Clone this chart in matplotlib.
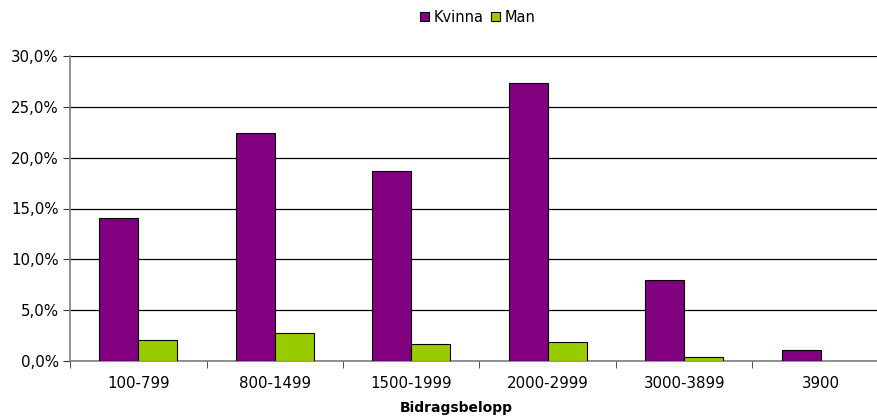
import matplotlib
matplotlib.use("Agg")
import matplotlib.pyplot as plt
import numpy as np
from matplotlib.ticker import FuncFormatter, FixedLocator

categories = ["100-799", "800-1499", "1500-1999", "2000-2999", "3000-3899", "3900"]
kvinna = [14.1, 22.4, 18.7, 27.3, 8.0, 1.1]
man = [2.05, 2.75, 1.7, 1.9, 0.4, 0.0]
series_names = ["Kvinna", "Man"]
colors = ["#800080", "#99CC00"]

plt.rcParams['font.family'] = ['DejaVu Sans']
fig = plt.figure(figsize=(8.77, 4.18), dpi=100)
ax = fig.add_axes([70/877, 1-361/418, (889-70)/877, (361-56)/418])

x = np.arange(len(categories))
w = 0.286
ax.bar(x - w/2, kvinna, w, color=colors[0], edgecolor="black", linewidth=0.8, label=series_names[0], zorder=3)
ax.bar(x + w/2, [v if v > 0 else np.nan for v in man], w, color=colors[1], edgecolor="black", linewidth=0.8, label=series_names[1], zorder=3)

ax.set_xlim(-0.5, len(categories) - 0.5)
ax.set_ylim(0, 30)
ax.set_yticks(np.arange(0, 31, 5))
ax.yaxis.set_major_formatter(FuncFormatter(lambda v, p: f"{v:.1f}".replace(".", ",") + "%"))
ax.yaxis.grid(True, color="black", linewidth=0.9, zorder=0)
ax.set_xticks(x)
ax.set_xticklabels(categories, fontsize=10.8)
ax.tick_params(axis="x", length=0, pad=11)
ax.xaxis.set_minor_locator(FixedLocator(np.arange(-0.5, len(categories), 1)))
ax.tick_params(axis="x", which="minor", length=5, color="#333333")
ax.tick_params(axis="y", length=5, color="#333333", labelsize=10.8, pad=3)
for s in ["top", "right"]:
    ax.spines[s].set_visible(False)
for s in ["left", "bottom"]:
    ax.spines[s].set_color("#808080")
    ax.spines[s].set_linewidth(1.2)

fig.text(456/877, 1-408/418, "Bidragsbelopp", fontsize=10, fontweight="bold", ha="center", va="center")

leg = fig.legend(loc="center", bbox_to_anchor=(478/877, 1-17/418), ncol=2, frameon=False,
                 fontsize=10.5, handlelength=0.6, handleheight=0.6, handletextpad=0.35, columnspacing=0.5)

fig.savefig("out.png", dpi=100)
